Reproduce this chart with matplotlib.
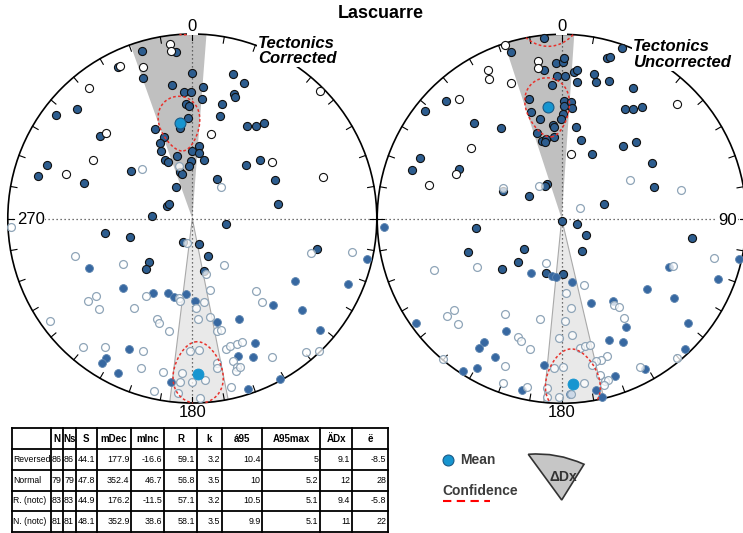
import numpy as np
import matplotlib
matplotlib.use('Agg')
import matplotlib.pyplot as plt
from matplotlib.patches import Wedge, Circle, PathPatch
from matplotlib.path import Path

plt.rcParams['font.family'] = ['Liberation Sans', 'DejaVu Sans']

# site statistics
row_names = ['Reversed', 'Normal', 'R. (notc)', 'N. (notc)']
col_names = ['', 'N', 'Ns', 'S', 'mDec', 'mInc', 'R', 'k', 'á95', 'A95max', 'ÄDx', 'ë']
n_dirs = [86, 79, 83, 81]
ns_dirs = [86, 79, 83, 81]
s_val = [44.1, 47.8, 44.9, 48.1]
m_dec = [177.9, 352.4, 176.2, 352.9]
m_inc = [-16.6, 46.7, -11.5, 38.6]
r_val = [59.1, 56.8, 57.1, 58.1]
k_val = [3.2, 3.5, 3.2, 3.5]
a95 = [10.4, 10, 10.5, 9.9]
a95_max = [5, 5.2, 5.1, 5.1]
d_dx = [9.1, 12, 9.4, 11]
lam = [-8.5, 28, -5.8, 22]
# inclination half-axis of the confidence ellipses
d_ix = [17.0, 13.0, 18.5, 14.5]

# tectonics corrected directions
tc_norm_dec = [343.2, 354.3, 334.0, 340.6, 359.8, 351.2, 356.1, 359.4, 4.6, 4.7,
               356.8, 358.5, 357.7, 352.5, 337.6, 340.9, 336.9, 335.1, 335.0, 336.9,
               346.2, 359.5, 5.0, 5.6, 11.0, 358.7, 356.4, 345.6, 347.0, 332.4,
               296.0, 301.4, 273.1, 31.7, 45.1, 49.0, 65.3, 80.6, 30.7, 34.6,
               37.0, 15.2, 14.4, 18.6, 19.4, 15.8, 20.9, 313.4, 307.1, 311.8,
               290.1, 285.4, 288.1, 307.9, 260.8, 253.5, 202.0, 165.4, 99.3, 156.7,
               225.1, 222.9, 167.4, 103.8,
               352.7, 352.7, 341.9, 334.7, 321.6, 314.9, 300.3, 289.2, 12.6, 45.0,
               54.6, 72.3]
tc_norm_inc = [5.6, 10.2, 9.4, 20.2, 22.4, 27.8, 31.9, 32.0, 29.1, 35.5,
               38.0, 38.7, 44.6, 49.2, 46.3, 51.3, 53.2, 56.8, 61.3, 62.9,
               61.4, 60.0, 57.6, 60.9, 63.6, 64.4, 66.6, 68.6, 69.8, 74.4,
               77.5, 78.0, 72.0, 69.5, 56.2, 50.0, 49.0, 51.0, 41.1, 39.0,
               35.7, 42.1, 36.0, 29.6, 31.0, 19.5, 22.6, 14.9, 8.2, 33.5,
               17.1, 14.5, 38.2, 55.4, 50.4, 61.1, 78.7, 78.2, 74.9, 72.0,
               62.8, 59.6, 66.2, 30.9,
               -5.4, -9.4, -14.5, -9.3, -11.0, -34.6, -37.5, -28.2, -51.1, -2.3,
               -45.8, -26.5]
tc_rev_dec = [244.3, 224.9, 208.0, 198.0, 193.2, 185.0, 178.3, 103.0, 121.4, 112.8,
              136.9, 129.8, 131.2, 155.2, 166.8, 153.4, 161.6, 156.4, 205.9, 211.7,
              212.0, 205.5, 187.5, 162.0, 151.4,
              267.2, 252.1, 237.0, 145.5, 101.9, 106.1, 193.0, 166.4, 166.0, 211.0,
              189.3, 188.3, 172.0, 177.6, 176.9, 170.0, 167.4, 165.6, 231.4, 231.5,
              225.7, 213.2, 234.3, 199.2, 197.5, 191.7, 138.4, 140.3, 220.4, 214.2,
              200.3, 199.0, 190.9, 192.6, 184.7, 183.9, 184.2, 180.0, 180.9, 177.2,
              175.6, 177.4, 170.2, 170.6, 165.4, 163.5, 160.6, 158.0, 164.1, 163.1,
              164.0, 162.2, 167.0, 150.1, 139.7, 136.3, 314.2, 43.0, 345.5]
tc_rev_inc = [37.9, 46.0, 52.3, 54.9, 54.1, 56.2, 53.0, 2.9, 35.3, 9.6,
              36.0, 23.8, 8.9, 39.8, 41.8, 25.5, 22.6, 19.4, 22.2, 12.0,
              8.2, 7.7, 11.5, 2.9, 1.0,
              -1.8, -33.7, -52.9, -65.0, -12.7, -33.7, -79.0, -64.8, -57.3, -49.5,
              -54.1, -52.9, -52.3, -49.8, -44.4, -44.7, -37.7, -37.6, -33.4, -28.8,
              -30.2, -41.6, -5.6, -41.8, -40.2, -38.0, -46.6, -40.6, -9.7, -17.1,
              -24.7, -15.6, -16.4, -4.7, -5.9, -17.3, -12.2, -12.5, -29.1, -29.5,
              -13.4, -3.2, -21.7, -18.8, -27.7, -28.7, -28.5, -28.8, -20.8, -17.1,
              -15.1, -16.4, -7.1, -14.7, -5.5, -1.0, -58.6, -71.3, -66.0]

# directions without tectonic correction
nc_norm_dec = [354.4, 343.0, 357.9, 0.4, 0.8, 353.2, 358.2, 1.3, 4.8, 6.0,
               12.7, 13.9, 18.8, 6.5, 15.7, 16.7, 19.5, 28.6, 355.7, 344.9,
               343.9, 347.7, 1.1, 1.2, 4.4, 5.2, 0.5, 359.7, 354.5, 355.4,
               344.1, 346.0, 349.0, 347.4, 354.4, 8.7, 14.0, 24.9, 40.0, 44.2,
               29.8, 33.0, 35.5, 58.2, 71.0, 71.0, 304.9, 336.7, 332.7, 295.1,
               317.5, 326.2, 315.5, 308.3, 293.2, 288.1, 296.0, 170.0, 108.4, 123.9,
               148.4, 263.9, 250.4, 231.1, 225.3, 230.1, 196.4, 179.0, 98.3,
               341.9, 333.8, 332.6, 339.6, 351.6, 351.0, 319.5, 307.8, 284.2, 292.8,
               8.4, 45.1]
nc_norm_inc = [1.9, 6.2, 16.5, 15.9, 13.7, 19.9, 23.6, 23.6, 21.4, 20.2,
               20.8, 24.4, 22.2, 26.5, 10.3, 9.3, 2.2, 20.3, 28.3, 33.2,
               39.4, 44.0, 36.1, 38.6, 36.6, 39.5, 42.8, 44.9, 47.6, 48.7,
               50.1, 54.0, 53.8, 55.1, 53.4, 48.4, 53.8, 58.3, 47.3, 41.5,
               31.9, 29.6, 26.4, 42.1, 46.1, 70.3, 72.2, 73.2, 73.9, 61.3,
               30.3, 40.3, 11.5, 6.1, 17.7, 15.9, 38.0, 89.0, 82.8, 76.9,
               73.1, 51.4, 45.0, 68.7, 62.8, 55.1, 64.8, 65.5, 29.4,
               -1.0, -10.9, -15.8, -22.5, -14.6, -18.2, -15.6, -37.6, -26.8, -37.9,
               -60.9, -12.6]
nc_rev_dec = [267.4, 209.4, 189.9, 185.6, 171.1, 161.0, 148.0, 129.6, 125.3, 111.1,
              102.7, 114.4, 234.4, 206.3, 149.4, 153.4, 158.5, 129.7, 136.4, 212.3,
              212.6, 205.6, 209.5, 212.9, 192.9, 187.0, 161.3, 168.7, 167.3, 177.3,
              150.9,
              60.6, 76.6, 59.9, 325.9, 297.6, 248.2, 240.3, 199.6, 161.0, 176.7,
              174.3, 178.1, 192.2, 181.2, 175.1, 210.7, 229.9, 229.6, 224.4, 200.2,
              198.5, 193.7, 172.0, 169.6, 167.4, 148.8, 147.2, 147.7, 161.6, 164.4,
              166.6, 168.1, 201.0, 220.4, 183.0, 179.6, 172.4, 166.2, 164.9, 163.8,
              165.6, 199.7, 191.6, 185.1, 184.7, 180.8, 176.8, 152.0, 140.4, 113.0,
              104.4]
nc_rev_inc = [4.2, 62.3, 64.2, 64.2, 61.7, 50.2, 46.2, 39.8, 26.5, 9.8,
              1.9, 36.5, 3.4, 32.4, 32.2, 26.4, 30.3, 12.3, 3.1, 22.2,
              18.2, 17.8, 8.1, 2.0, 5.1, 21.4, 11.0, 5.8, 1.0, 5.4,
              7.7,
              -54.8, -33.7, -80.5, -72.3, -60.4, -26.6, -46.3, -69.3, -59.1, -56.8,
              -49.7, -43.9, -43.6, -35.8, -36.8, -39.6, -19.6, -24.5, -21.0, -32.2,
              -30.8, -28.4, -30.0, -30.6, -30.6, -44.7, -42.4, -36.5, -22.6, -21.4,
              -21.9, -20.4, -15.4, -0.5, -20.0, -21.0, -11.3, -13.8, -10.0, -10.1,
              -7.9, -6.1, -7.4, -8.5, -3.6, -4.0, -5.7, -10.2, -2.6, -34.9,
              -15.9]

W, H = 743, 533
NORM_FILL = '#2d5d8f'
REV_FILL = '#3768a1'
REV_EDGE = '#8fa5b8'
MEAN_COL = '#1695d0'
CONF_COL = '#e8312b'


def to_xy(dec, inc):
    # equal-area (Schmidt) projection, |inc| plotted on the unit circle
    d = np.radians(np.asarray(dec, float))
    i = np.abs(np.asarray(inc, float))
    r = np.sqrt(2) * np.sin(np.radians(90 - i) / 2)
    return r * np.sin(d), r * np.cos(d)


def draw_net(cx, cy, rad, rows, norm_dec, norm_inc, rev_dec, rev_inc, caption, cap_xy, side):
    pad = 1.16
    ax = fig.add_axes([(cx - pad * rad) / W, 1 - (cy + pad * rad) / H,
                       2 * pad * rad / W, 2 * pad * rad / H])
    ax.set_xlim(-pad, pad)
    ax.set_ylim(-pad, pad)
    ax.axis('off')
    i_rev, i_norm = rows

    # declination uncertainty fans
    for i, fc, ec in [(i_norm, '#c0c0c0', 'none'), (i_rev, '#e9e9e9', '#a9a9a9')]:
        ax.add_patch(Wedge((0, 0), 1, 90 - (m_dec[i] + d_dx[i]), 90 - (m_dec[i] - d_dx[i]),
                           fc=fc, ec=ec, lw=0.8, zorder=1))

    ax.plot([-1, 1], [0, 0], ls=(0, (1, 2.2)), color='#444444', lw=0.9, zorder=2)
    ax.plot([0, 0], [-1, 1], ls=(0, (1, 2.2)), color='#444444', lw=0.9, zorder=2)
    ax.add_patch(Circle((0, 0), 1, fill=False, ec='black', lw=1.2, zorder=3))
    for a in np.radians(np.arange(0, 360, 10)):
        ax.plot([0.965 * np.sin(a), np.sin(a)], [0.965 * np.cos(a), np.cos(a)],
                color='black', lw=0.8, zorder=3)

    # normal polarity: black outline, filled = lower hemisphere
    x, y = to_xy(norm_dec, norm_inc)
    up = np.asarray(norm_inc) < 0
    ax.scatter(x[~up], y[~up], s=34, c=NORM_FILL, edgecolors='#111111', linewidths=0.8, zorder=4)
    ax.scatter(x[up], y[up], s=34, c='white', edgecolors='#111111', linewidths=0.8, zorder=4)

    # reversed polarity: light outline
    x, y = to_xy(rev_dec, rev_inc)
    up = np.asarray(rev_inc) < 0
    ax.scatter(x[~up], y[~up], s=32, c=REV_FILL, edgecolors='#5f86b0', linewidths=0.6, zorder=5)
    ax.scatter(x[up], y[up], s=32, facecolors=(1, 1, 1, 0.75), edgecolors=REV_EDGE,
               linewidths=0.9, zorder=5)

    # confidence ellipses, with the part crossing the horizon on the opposite side
    t = np.linspace(0, 2 * np.pi, 721)
    for i in rows:
        dd = m_dec[i] + d_dx[i] * np.sin(t)
        ii = abs(m_inc[i]) + d_ix[i] * np.cos(t)
        x, y = to_xy(dd, ii)
        xa, ya = to_xy(dd + 180, ii)
        over = ii < 0
        ax.plot(np.where(over, np.nan, x), np.where(over, np.nan, y),
                color=CONF_COL, lw=1.1, ls=(0, (1.8, 1.5)), zorder=6)
        ax.plot(np.where(over, xa, np.nan), np.where(over, ya, np.nan),
                color=CONF_COL, lw=1.1, ls=(0, (1.8, 1.5)), zorder=6)

    mx, my = to_xy([m_dec[i_norm]], [m_inc[i_norm]])
    ax.scatter(mx, my, s=62, c=MEAN_COL, edgecolors='#1b5a85', linewidths=0.8, zorder=7)
    mx, my = to_xy([m_dec[i_rev]], [m_inc[i_rev]])
    ax.scatter(mx, my, s=62, c=MEAN_COL, edgecolors=MEAN_COL, linewidths=0.6, zorder=7)

    box = dict(fc='white', ec='none', pad=0.6)
    ax.text(0, 1.04, '0', ha='center', va='center', fontsize=12, bbox=box, zorder=8)
    ax.text(0, -1.052, '180', ha='center', va='center', fontsize=12, bbox=box, zorder=8)
    if side == 'left':
        ax.text(-0.952, -0.008, '270', ha='left', va='center', fontsize=12, bbox=box, zorder=8)
    else:
        ax.text(0.949, -0.008, '90', ha='right', va='center', fontsize=12, bbox=box, zorder=8)
    ax.text(cap_xy[0], cap_xy[1], caption, ha='left', va='center', fontsize=12,
            fontweight='bold', fontstyle='italic', linespacing=1.05,
            bbox=dict(fc='white', ec='none', pad=0.5), zorder=8)
    return ax


fig = plt.figure(figsize=(W / 100, H / 100), dpi=100)

# table and legend, laid out in pixel units
axt = fig.add_axes([0, 0, 1, 1])
axt.set_xlim(0, W)
axt.set_ylim(H, 0)
axt.axis('off')

col_edges = [12, 51, 63, 75.5, 97, 131, 164, 197, 222, 262, 320, 352, 388]
row_edges = [428, 449, 470, 490.5, 511, 532]
table_cols = [n_dirs, ns_dirs, s_val, m_dec, m_inc, r_val, k_val, a95, a95_max, d_dx, lam]
for e in col_edges:
    axt.plot([e, e], [row_edges[0], row_edges[-1]], color='black', lw=1.3)
for e in row_edges:
    axt.plot([col_edges[0], col_edges[-1]], [e, e], color='black', lw=1.3)
for j, name in enumerate(col_names):
    axt.text((col_edges[j] + col_edges[j + 1]) / 2, (row_edges[0] + row_edges[1]) / 2, name,
             ha='center', va='center', fontsize=7, fontweight='bold')
for r, name in enumerate(row_names):
    yc = (row_edges[r + 1] + row_edges[r + 2]) / 2
    axt.text(col_edges[0] + 1.2, yc, name, ha='left', va='center', fontsize=6.2)
    for j, col in enumerate(table_cols):
        axt.text(col_edges[j + 2] - 1.5, yc, f'{col[r]:g}', ha='right', va='center',
                 fontsize=6.4)

# legend
axt.scatter([448.3], [460], s=62, c=MEAN_COL, edgecolors='#1b5a85', linewidths=0.8)
axt.text(460, 460, 'Mean', ha='left', va='center', fontsize=10, fontweight='bold', color='#3c3c3c')
axt.text(442.5, 491, 'Confidence', ha='left', va='center', fontsize=10, fontweight='bold',
         color='#3c3c3c')
axt.plot([443, 490], [500.7, 500.7], color='red', lw=1.5, ls=(0, (4, 2.6)))
fan = Path([(561.7, 500), (528.3, 454.3), (557, 452), (584, 464.3), (561.7, 500)],
           [Path.MOVETO, Path.LINETO, Path.CURVE3, Path.CURVE3, Path.CLOSEPOLY])
axt.add_patch(PathPatch(fan, fc='#c6c6c6', ec='#333333', lw=1.2))
axt.text(563, 477, 'ΔDx', ha='center', va='center', fontsize=10, fontweight='bold', color='#333333')

fig.text(380.5 / W, 1 - 14 / H, 'Lascuarre', ha='center', va='center', fontsize=13,
         fontweight='bold')

draw_net(192.3, 218.5, 184.5, (0, 1), tc_norm_dec, tc_norm_inc, tc_rev_dec, tc_rev_inc,
         'Tectonics\nCorrected', (0.356, 0.907), 'left')
draw_net(561.7, 218.8, 184.5, (2, 3), nc_norm_dec, nc_norm_inc, nc_rev_dec, nc_rev_inc,
         'Tectonics\nUncorrected', (0.386, 0.890), 'right')

fig.savefig('out.png', dpi=100)
